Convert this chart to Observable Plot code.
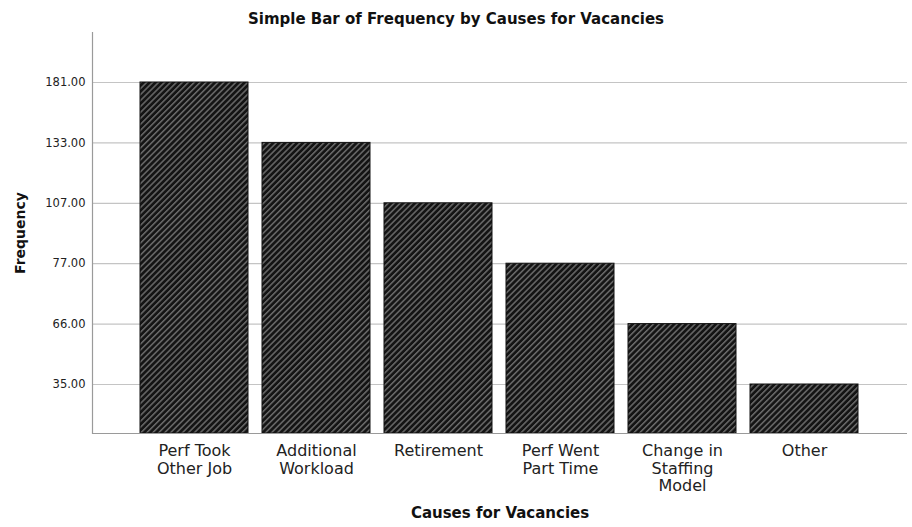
<!DOCTYPE html>
<html>
<head>
<meta charset="utf-8">
<script src="https://cdn.jsdelivr.net/npm/d3@7"></script>
<script src="https://cdn.jsdelivr.net/npm/@observablehq/plot@0.6"></script>
<style>
  body { margin: 0; background: #fff; font-family: "DejaVu Sans", sans-serif; }
  #title { width: 912px; height: 32px; line-height: 38px; text-align: center; font-weight: bold; font-size: 15px; color: #111; }
</style>
</head>
<body>
<div id="title">Simple Bar of Frequency by Causes for Vacancies</div>
<div id="chart"></div>
<script>
const causes = ["Perf Took\nOther Job", "Additional\nWorkload", "Retirement", "Perf Went\nPart Time", "Change in\nStaffing\nModel", "Other"];
const frequencies = [181, 133, 107, 77, 66, 35];
const yTicks = [35, 66, 77, 107, 133, 181];

const data = causes.map((c, i) => ({cause: c, freq: frequencies[i]}));

// SPSS-style ordinal-spaced axis: each tick value evenly spaced (piecewise linear scale)
const H = 495, mTop = 0, mBottom = 94;
const base = H - mBottom;
const step = 60.4, firstGap = 49;
const yDomain = [0, ...yTicks];
const yRange = yDomain.map((d, i) => i === 0 ? base : base - firstGap - (i - 1) * step);

const chart = Plot.plot({
  width: 912,
  height: H,
  marginLeft: 92,
  marginRight: 5,
  marginTop: mTop,
  marginBottom: mBottom,
  style: {fontFamily: "DejaVu Sans, sans-serif", color: "#222", background: "#fff"},
  x: {domain: causes, paddingInner: 0.111, paddingOuter: 0.379},
  y: {type: "linear", domain: yDomain, range: yRange},
  marks: [
    Plot.ruleY(yTicks, {stroke: "#c4c4c4", strokeWidth: 1.2}),
    Plot.barY(data, {x: "cause", y: "freq", fill: "url(#hatch)", stroke: "#111", strokeWidth: 1}),
    Plot.ruleY([0], {stroke: "#9a9a9a", strokeWidth: 1.2}),
    Plot.frame({anchor: "left", stroke: "#9a9a9a", strokeWidth: 1.2}),
    Plot.axisY({ticks: yTicks, tickFormat: d => d.toFixed(2), tickSize: 0, tickPadding: 7, fontSize: 11.5, label: null}),
    Plot.axisX({tickSize: 0, tickPadding: 10, fontSize: 16, lineHeight: 1.1, label: null}),
    Plot.text(["Frequency"], {frameAnchor: "left", dx: -72, rotate: -90, textAnchor: "middle", fontWeight: "bold", fontSize: 14, fill: "#111"}),
    Plot.text(["Causes for Vacancies"], {frameAnchor: "bottom", dy: 84, fontWeight: "bold", fontSize: 15, fill: "#111"})
  ]
});

const svgEl = chart;
const defs = d3.select(svgEl).insert("defs", ":first-child");
const pat = defs.append("pattern")
  .attr("id", "hatch")
  .attr("patternUnits", "userSpaceOnUse")
  .attr("width", 4.2)
  .attr("height", 4.2)
  .attr("patternTransform", "rotate(45)");
pat.append("rect").attr("width", 4.2).attr("height", 4.2).attr("fill", "#141414");
pat.append("rect").attr("width", 1.5).attr("height", 4.2).attr("fill", "#6a6a6a");

document.getElementById("chart").appendChild(chart);
</script>
</body>
</html>
